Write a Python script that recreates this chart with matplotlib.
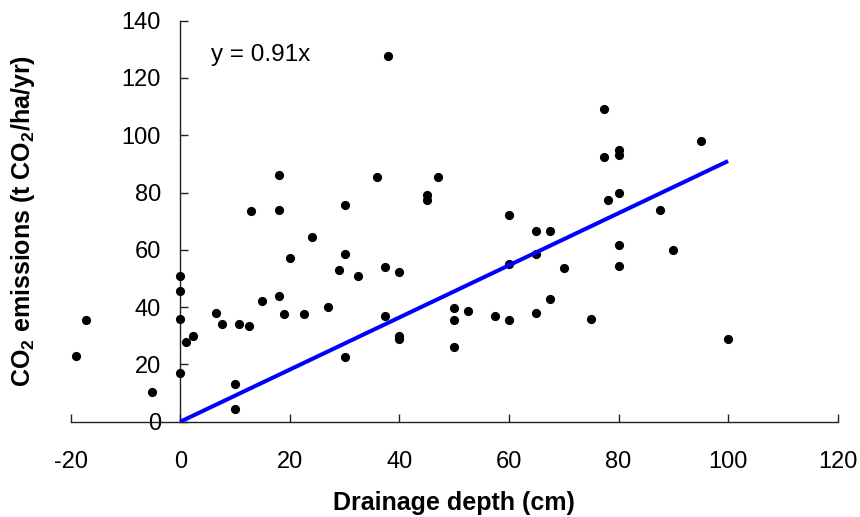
import numpy as np
from matplotlib import pyplot as plt

plt.rcParams["font.family"] = ["Liberation Sans", "DejaVu Sans"]
plt.rcParams["mathtext.fontset"] = "custom"
plt.rcParams["mathtext.rm"] = "Liberation Sans"
plt.rcParams["mathtext.bf"] = "Liberation Sans:bold"
plt.rcParams["axes.unicode_minus"] = False

# drainage depth (cm) and CO2 emissions (t CO2/ha/yr)
depth = [-19, -17.2, -5.2, 0, 0, 0, 0, 1, 2.3, 6.5, 7.6, 10, 10, 10.8, 12.6,
         13, 15, 18, 19, 20, 22.5, 24, 27, 29, 30, 30, 32.5, 37.4, 37.4, 40,
         40, 40, 50, 50, 50, 38, 18, 18, 30, 36, 47, 45, 45, 60, 77.4, 77.4,
         80, 80, 80, 78, 87.5, 65, 67.5, 60, 65, 70, 80, 80, 52.6, 57.5, 60,
         65, 67.5, 75, 90, 95, 100]
emissions = [23, 35.5, 10.5, 51, 45.5, 36, 17, 28, 30, 38, 34, 13, 4.3, 34,
             33.5, 73.5, 42, 44, 37.5, 57, 37.5, 64.5, 40, 53, 58.5, 22.5, 51,
             54, 37, 52.3, 30, 29, 39.6, 35.4, 26, 127.5, 86, 74, 75.5, 85.5,
             85.5, 79, 77.5, 72, 109, 92.3, 95, 93, 80, 77.3, 74, 66.5, 66.5,
             55, 58.4, 53.7, 61.7, 54.3, 38.8, 37, 35.4, 38, 42.8, 36, 60, 98,
             29]

slope = 0.91
fit_range = [0, 100]

x_ticks = [-20, 0, 20, 40, 60, 80, 100, 120]
y_ticks = [0, 20, 40, 60, 80, 100, 120, 140]

fig = plt.figure(figsize=(8.6, 5.17), dpi=100)
ax = fig.add_axes([0.0822, 0.1843, 0.974 - 0.0822, 0.960 - 0.1843])

ax.plot(depth, emissions, "o", color="black", ms=5.6, zorder=3, clip_on=False)
fit_x = np.array(fit_range)
ax.plot(fit_x, slope * fit_x, color="#0000ff", lw=2.9, zorder=4,
        solid_capstyle="butt")

ax.set_xlim(-20, 120)
ax.set_ylim(0, 140)
ax.set_xticks(x_ticks)
ax.set_yticks(y_ticks)

ax.spines["top"].set_visible(False)
ax.spines["right"].set_visible(False)
ax.spines["left"].set_position(("data", 0))
for s in ("left", "bottom"):
    ax.spines[s].set_linewidth(1.0)
    ax.spines[s].set_color("#222222")

ax.tick_params(axis="x", direction="in", length=6, width=1.0, pad=21,
               labelsize=17, color="#222222")
ax.tick_params(axis="y", direction="in", length=6, width=1.0, pad=14,
               labelsize=17, color="#222222")

ax.text(5.7, 128, "y = 0.91x", fontsize=17.5, ha="left", va="center")

ax.set_xlabel("Drainage depth (cm)", fontsize=18, fontweight="bold",
              labelpad=13)
fig.text(23 / 860, 1 - 221 / 517,
         r"CO$_\mathbf{2}$ emissions (t CO$_\mathbf{2}$/ha/yr)",
         rotation=90, ha="center", va="center", fontsize=18,
         fontweight="bold")

plt.savefig("out.png", dpi=100)
